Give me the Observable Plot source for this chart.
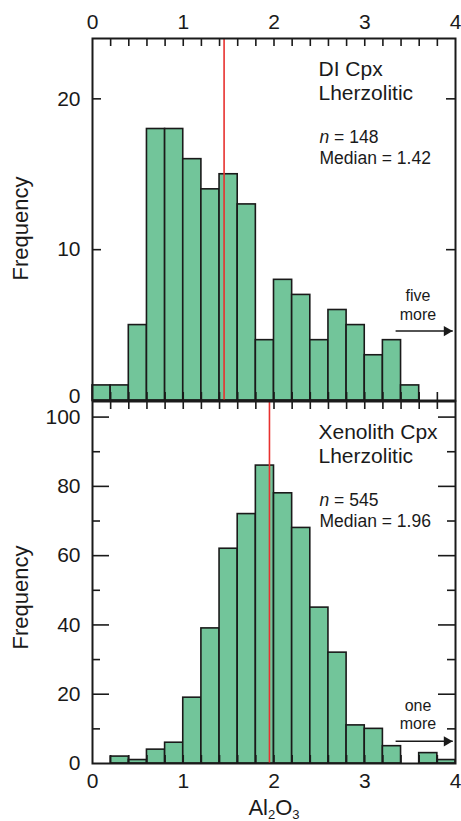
<!DOCTYPE html>
<html><head><meta charset="utf-8">
<script src="https://cdn.jsdelivr.net/npm/d3@7"></script>
<script src="https://cdn.jsdelivr.net/npm/@observablehq/plot@0.6"></script>
<style>
body{margin:0;background:#fff;}
#chart{position:relative;width:461px;height:821px;overflow:hidden;background:#fff;}
#chart svg{position:absolute;left:0;}
</style></head><body><div id="chart"></div>
<script>
// ---- data ----
const binStarts = [0,0.2,0.4,0.6,0.8,1.0,1.2,1.4,1.6,1.8,2.0,2.2,2.4,2.6,2.8,3.0,3.2,3.4,3.6,3.8];
const binWidth = 0.2;
const diCounts   = [1,1,5,18,18,16,14,15,13,4,8,7,4,6,5,3,4,1,0,0];
const xenoCounts = [0,2,1,4,6,19,39,62,72,86,78,68,45,32,11,10,5,0,3,1];
const medianLines = [1.45, 1.95];
const panelTitles = [["DI Cpx","Lherzolitic"],["Xenolith Cpx","Lherzolitic"]];
const sampleSizes = ["148","545"];
const medianLabels = ["1.42","1.96"];
const overflowNotes = [["five","more"],["one","more"]];
const overflowArrows = [{x1:3.34,x2:3.97,y:4.6},{x1:3.34,x2:3.97,y:6.4}];
const xTickLabels = [0,1,2,3,4];
const xMinorTicks = [0.2,0.4,0.6,0.8,1.0,1.2,1.4,1.6,1.8,2.0,2.2,2.4,2.6,2.8,3.0,3.2,3.4,3.6,3.8];
const yTicksTop = [10,20];
const yZeroTop = [0];
const yTicksBottom = [0,20,40,60,80,100];
const yMajorBottom = [20,40,60,80,100];
const yMinorBottom = [10,30,50,70,90];
const yDomains = [[0,24],[0,104.5]];
const yLabel = "Frequency";
const xLabel = "Al2O3";

// ---- layout ----
const W = 461, FW = 363, FH = 362;
const FONT = "'Liberation Sans', Arial, Helvetica, sans-serif";
const INK = "#1a1a1a";
const TICKFS = 21;

function panel(k) {
  const counts = k === 0 ? diCounts : xenoCounts;
  const bins = binStarts.map((x0, i) => ({x0, x1: x0 + binWidth, count: counts[i]})).filter(d => d.count > 0);
  const isTop = k === 0;
  const marks = [
    Plot.rectY(bins, {x1: "x0", x2: "x1", y1: 0, y2: "count", fill: "#72c59a", stroke: INK, strokeWidth: 1.6}),
    Plot.tickX(xMinorTicks, {x: d => d, insetTop: FH - 8, stroke: INK, strokeWidth: 1.6}),
    Plot.tickX(xMinorTicks, {x: d => d, insetBottom: FH - 8, stroke: INK, strokeWidth: 1.6}),
    Plot.ruleX([medianLines[k]], {x: d => d, stroke: "#e8312f", strokeWidth: 1.6}),
    Plot.frame({stroke: INK, strokeWidth: 2}),
    Plot.axisX({anchor: isTop ? "top" : "bottom", ticks: xTickLabels, tickFormat: d => String(d), tickSize: 0, tickPadding: 10, label: null, fontSize: TICKFS}),
    Plot.text([yLabel], {text: d => d, frameAnchor: "left", rotate: -90, dx: -72, dy: isTop ? 9 : 15, fontSize: 22, textAnchor: "middle", lineAnchor: "middle", fill: INK}),
    Plot.text([panelTitles[k][0]], {text: d => d, frameAnchor: "top-left", dx: 226, dy: 37.5, fontSize: 21, textAnchor: "start", lineAnchor: "bottom", fill: INK}),
    Plot.text([panelTitles[k][1]], {text: d => d, frameAnchor: "top-left", dx: 226, dy: 61, fontSize: 21, textAnchor: "start", lineAnchor: "bottom", fill: INK}),
    Plot.text(["n = " + sampleSizes[k]], {text: d => d, frameAnchor: "top-left", dx: 227, dy: 104, fontSize: 17.5, textAnchor: "start", lineAnchor: "bottom", fill: INK}),
    Plot.text(["Median = " + medianLabels[k]], {text: d => d, frameAnchor: "top-left", dx: 227, dy: 125, fontSize: 17.5, textAnchor: "start", lineAnchor: "bottom", fill: INK}),
    Plot.text([overflowNotes[k][0]], {text: d => d, frameAnchor: "top-left", dx: 325.5, dy: isTop ? 262 : 309, fontSize: 16, textAnchor: "middle", lineAnchor: "bottom", fill: INK}),
    Plot.text([overflowNotes[k][1]], {text: d => d, frameAnchor: "top-left", dx: 325.5, dy: isTop ? 281 : 327, fontSize: 16, textAnchor: "middle", lineAnchor: "bottom", fill: INK}),
    Plot.link([overflowArrows[k]], {x1: "x1", x2: "x2", y1: "y", y2: "y", stroke: INK, strokeWidth: 1.5}),
    Plot.dot([overflowArrows[k]], {x: "x2", y: "y", symbol: "triangle", r: 3.8, rotate: 90, dx: -6, fill: INK, stroke: "none"})
  ];
  if (isTop) {
    marks.push(Plot.axisY({ticks: yTicksTop, tickSize: 0, tickPadding: 12, label: null, fontSize: TICKFS}));
    marks.push(Plot.axisY({ticks: yZeroTop, tickSize: 0, tickPadding: 12, label: null, fontSize: TICKFS, dy: -4}));
    marks.push(Plot.tickY(yTicksTop, {y: d => d, insetRight: FW - 9, stroke: INK, strokeWidth: 1.6}));
    marks.push(Plot.tickY(yTicksTop, {y: d => d, insetLeft: FW - 9, stroke: INK, strokeWidth: 1.6}));
  } else {
    marks.push(Plot.axisY({ticks: yTicksBottom, tickSize: 0, tickPadding: 12, label: null, fontSize: TICKFS}));
    marks.push(Plot.tickY(yMajorBottom, {y: d => d, insetRight: FW - 17, stroke: INK, strokeWidth: 1.6}));
    marks.push(Plot.tickY(yMajorBottom, {y: d => d, insetLeft: FW - 17, stroke: INK, strokeWidth: 1.6}));
    marks.push(Plot.tickY(yMinorBottom, {y: d => d, insetRight: FW - 8, stroke: INK, strokeWidth: 1.6}));
    marks.push(Plot.tickY(yMinorBottom, {y: d => d, insetLeft: FW - 8, stroke: INK, strokeWidth: 1.6}));
    marks.push(Plot.text([xLabel], {text: d => d, frameAnchor: "bottom", dx: 0, dy: 51, fontSize: 22, textAnchor: "middle", lineAnchor: "bottom", fill: INK}));
  }
  return Plot.plot({
    width: W,
    height: isTop ? 401 : 421,
    marginLeft: 92, marginRight: 6,
    marginTop: isTop ? 38 : 1,
    marginBottom: isTop ? 1 : 58,
    x: {domain: [0, 4]},
    y: {domain: yDomains[k]},
    style: {background: "transparent", overflow: "visible", fontFamily: FONT, fontSize: "20px", color: INK},
    marks
  });
}

function richText(svg) {
  const NS = "http://www.w3.org/2000/svg";
  svg.querySelectorAll("text, tspan").forEach(el => {
    if (el.children.length) return;
    const t = el.textContent;
    if (t === xLabel) {
      el.textContent = "";
      const parts = [["Al", 0, null], ["2", 4, 13], ["O", -4, null], ["3", 4, 13]];
      for (const [s, dy, fs] of parts) {
        const sp = document.createElementNS(NS, "tspan");
        sp.textContent = s;
        if (dy) sp.setAttribute("dy", dy);
        if (fs) sp.setAttribute("font-size", fs);
        el.appendChild(sp);
      }
    } else if (/^n = /.test(t)) {
      el.textContent = "";
      const it = document.createElementNS(NS, "tspan");
      it.setAttribute("font-style", "italic");
      it.textContent = "n";
      el.appendChild(it);
      el.appendChild(document.createTextNode(t.slice(1)));
    }
  });
}

const chart = document.getElementById("chart");
const a = panel(0); a.style.top = "0px"; richText(a); chart.appendChild(a);
const b = panel(1); b.style.top = "400px"; richText(b); chart.appendChild(b);
</script></body></html>
